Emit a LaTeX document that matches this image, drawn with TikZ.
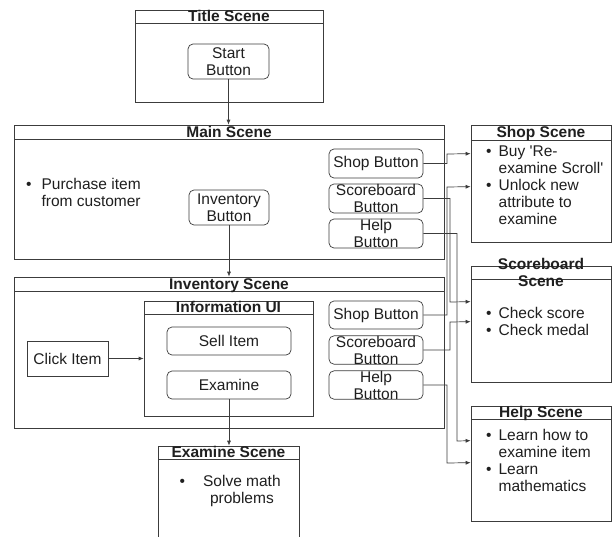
\documentclass[tikz,border=0pt]{standalone}
\usepackage{fontspec}
\setmainfont{Liberation Sans}[Ligatures=TeXOff]
\usetikzlibrary{arrows.meta,calc}
\definecolor{lc}{HTML}{3C3C3C}
\begin{document}
\begin{tikzpicture}[x=1pt,y=-1pt,
  every node/.style={font=\fontsize{15.5}{17}\selectfont, text=black!88},
  box/.style={draw=lc, line width=0.7pt, inner sep=0pt},
  scene/.style={box},
  hdr/.style={box, font=\fontsize{15.5}{17}\selectfont\bfseries, text height=11.5pt, text depth=1.5pt, anchor=north},
  hdrtext/.style={inner sep=0pt, font=\fontsize{15.5}{17}\selectfont\bfseries, align=center},
  btn/.style={box, rounded corners=5pt, align=center},
  bullets/.style={anchor=west, inner sep=0pt},
  conn/.style={draw=lc, line width=0.7pt, -{Latex[length=5pt,width=4pt]}},
]
\clip (0,0) rectangle (612,536);
\fill[white] (0,0) rectangle (612,536);

% Title scene
\node[scene, minimum width=188, minimum height=92] (title) at (229,56) {};
\node[hdr, minimum width=188, minimum height=13] (titleh) at (title.north) {Title Scene};
\node[btn, minimum width=81, minimum height=35] (start) at (228.5,61.5) {Start\\Button};

% Main scene
\node[scene, minimum width=430, minimum height=134] (main) at (229,192) {};
\node[hdr, minimum width=430, minimum height=14] (mainh) at (main.north) {Main Scene};
\node[bullets] (purchase) at (26,194.5) {\begin{tabular}{@{}l@{\hspace{10pt}}l@{}}\textbullet & Purchase item\\ & from customer\end{tabular}};
\node[btn, minimum width=80, minimum height=35] (invbtn) at (229,207.5) {Inventory\\Button};
\node[btn, minimum width=94, minimum height=29] (mshop) at (376,163.5) {Shop Button};
\node[btn, minimum width=94, minimum height=29] (mscore) at (376,198.5) {Scoreboard\\Button};
\node[btn, minimum width=94, minimum height=29] (mhelp) at (376,233.5) {Help\\Button};

% Inventory scene
\node[scene, minimum width=430, minimum height=151] (inv) at (229,352.5) {};
\node[hdr, minimum width=430, minimum height=14] (invh) at (inv.north) {Inventory Scene};
\node[scene, minimum width=169, minimum height=115] (info) at (228.5,358.5) {};
\node[hdr, minimum width=169, minimum height=12] (infoh) at (info.north) {Information UI};
\node[btn, minimum width=124, minimum height=28] (sell) at (229,341) {Sell Item};
\node[btn, minimum width=124, minimum height=28] (exam) at (229,385) {Examine};
\node[box, minimum width=81, minimum height=35] (click) at (67.5,358.5) {Click Item};
\node[btn, minimum width=94, minimum height=28] (ishop) at (376,315) {Shop Button};
\node[btn, minimum width=94, minimum height=28] (iscore) at (376,350) {Scoreboard\\Button};
\node[btn, minimum width=94, minimum height=28] (ihelp) at (376,385) {Help\\Button};

% Examine scene
\node[scene, minimum width=141, minimum height=100] (exscene) at (228.5,496) {};
\node[hdr, minimum width=141, minimum height=13] (exsceneh) at (exscene.north) {Examine Scene};
\node[bullets] (solve) at (179.5,492) {\begin{tabular}{@{}l@{\hspace{18pt}}c@{}}\textbullet & Solve math\\ & problems\end{tabular}};

% Shop scene
\node[scene, minimum width=140, minimum height=117] (shop) at (541,183.5) {};
\node[hdr, minimum width=140, minimum height=15] (shoph) at (shop.north) {Shop Scene};
\node[bullets] (shoptext) at (486,187.5) {\begin{tabular}{@{}l@{\hspace{7pt}}l@{}}\textbullet & Buy 'Re-\\ & examine Scroll'\\ \textbullet & Unlock new\\ & attribute to\\ & examine\end{tabular}};

% Scoreboard scene
\node[scene, minimum width=140, minimum height=116] (score) at (541,324) {};
\node[hdr, minimum width=140, minimum height=13] (scoreh) at (score.north) {};
\node[hdrtext] (scoret) at (scoreh.center) {Scoreboard\\Scene};
\node[bullets] (scoretext) at (486,323.5) {\begin{tabular}{@{}l@{\hspace{7pt}}l@{}}\textbullet & Check score\\ \textbullet & Check medal\end{tabular}};

% Help scene
\node[scene, minimum width=140, minimum height=115] (help) at (541,463.5) {};
\node[hdr, minimum width=140, minimum height=13] (helph) at (help.north) {Help Scene};
\node[bullets] (helptext) at (486,463) {\begin{tabular}{@{}l@{\hspace{7pt}}l@{}}\textbullet & Learn how to\\ & examine item\\ \textbullet & Learn\\ & mathematics\end{tabular}};

% Connectors
\draw[conn] (start.south) -- (start.south |- main.north);
\draw[conn] (invbtn.south) -- (invbtn.south |- inv.north);
\draw[conn] (exam.south) -- (exam.south |- exscene.north);
\draw[conn] (click.east) -- (click.east -| info.west);
\draw[conn] (mshop.east) -| (447,154) -- ($(shop.north west)+(0,29)$);
\draw[conn] (ishop.east) -| (447,187) -- ($(shop.north west)+(0,62)$);
\draw[conn] (mscore.east) -| (450,302) -- ($(score.north west)+(0,36)$);
\draw[conn] (iscore.east) -| (450,322) -- ($(score.north west)+(0,56)$);
\draw[conn] (mhelp.east) -| (457,441) -- ($(help.north west)+(0,35)$);
\draw[conn] (ihelp.east) -| (447,463) -- ($(help.north west)+(0,57)$);
\end{tikzpicture}
\end{document}
